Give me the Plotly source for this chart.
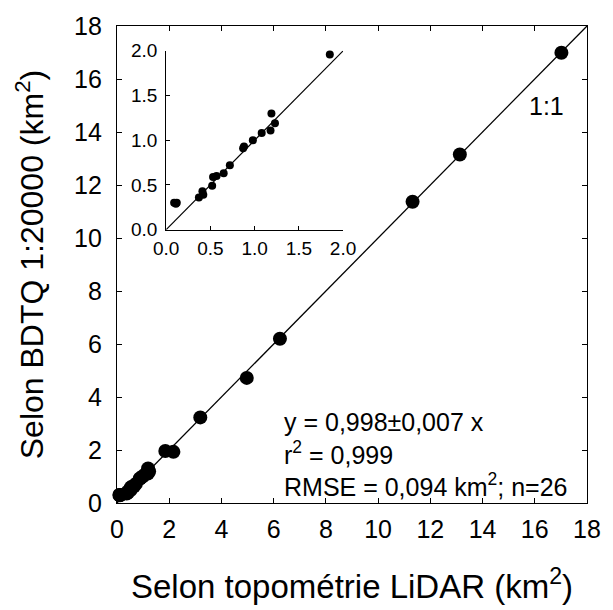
import plotly.graph_objects as go

lidar = [0.09, 0.12, 0.11, 0.37, 0.41, 0.42, 0.52, 0.53, 0.57, 0.65, 0.72, 0.87, 0.88,
         0.98, 1.08, 1.18, 1.19, 1.23, 1.85, 2.16, 3.19, 4.97, 6.24, 11.32, 13.13, 17.02]
bdtq = [0.30, 0.30, 0.29, 0.36, 0.43, 0.39, 0.49, 0.59, 0.60, 0.63, 0.72, 0.91, 0.93,
        1.00, 1.08, 1.11, 1.30, 1.19, 1.96, 1.93, 3.23, 4.72, 6.20, 11.37, 13.15, 16.99]
main_ticks = [0, 2, 4, 6, 8, 10, 12, 14, 16, 18]
inset_ticks = [0.0, 0.5, 1.0, 1.5, 2.0]
inset_labels = ["0.0", "0.5", "1.0", "1.5", "2.0"]

inset_x = [a for a in lidar if a <= 2.0]
inset_y = [b for a, b in zip(lidar, bdtq) if a <= 2.0]

FONT = "Liberation Sans, Arial, sans-serif"
fig = go.Figure()

# main 1:1 line
fig.add_trace(go.Scatter(x=[0, 18], y=[0, 18], mode="lines",
                         line=dict(color="black", width=1.3), showlegend=False,
                         hoverinfo="skip"))
fig.add_trace(go.Scatter(x=lidar, y=bdtq, mode="markers",
                         marker=dict(color="black", size=14), showlegend=False,
                         cliponaxis=False))
# inset
fig.add_trace(go.Scatter(x=[0, 2], y=[0, 2], mode="lines", xaxis="x2", yaxis="y2",
                         line=dict(color="black", width=1.1), showlegend=False,
                         hoverinfo="skip"))
fig.add_trace(go.Scatter(x=inset_x, y=inset_y, mode="markers", xaxis="x2", yaxis="y2",
                         marker=dict(color="black", size=8), showlegend=False,
                         cliponaxis=False))

axis_common = dict(showgrid=False, zeroline=False, showline=True, linecolor="black",
                   linewidth=1.3, ticks="inside", ticklen=5, tickcolor="black",
                   mirror="ticks", tickfont=dict(size=25, color="black", family=FONT))

inset_common = dict(showgrid=False, zeroline=False, showline=True, linecolor="black",
                    linewidth=1, ticks="inside", ticklen=4, tickcolor="black",
                    tickfont=dict(size=19, color="black", family=FONT))

fig.update_layout(
    width=613, height=610,
    margin=dict(l=117, r=18, t=25, b=107),
    plot_bgcolor="white", paper_bgcolor="white",
    font=dict(family=FONT, color="black"),
    xaxis=dict(range=[0, 18], tickvals=main_ticks, ticklabelstandoff=4,
               title=dict(text="Selon topométrie LiDAR (km<sup>2</sup>)",
                          font=dict(size=33), standoff=32),
               **axis_common),
    yaxis=dict(range=[0, 18], tickvals=main_ticks, ticklabelstandoff=9,
               title=dict(text="Selon BDTQ 1:20000 (km<sup>2</sup>)",
                          font=dict(size=32), standoff=20),
               **axis_common),
    xaxis2=dict(domain=[0.1046, 0.481], anchor="y2", range=[0, 2],
                tickvals=inset_ticks, ticktext=inset_labels, ticklabelstandoff=2,
                **inset_common),
    yaxis2=dict(domain=[0.573, 0.948], anchor="x2", range=[0, 2],
                tickvals=inset_ticks, ticktext=inset_labels, ticklabelstandoff=4,
                **inset_common),
    annotations=[
        dict(x=16.45, y=15.0, xref="x", yref="y", text="1:1", showarrow=False,
             xanchor="center", yanchor="middle", font=dict(size=25)),
        dict(x=6.33, y=3.05, xref="x", yref="y", text="y = 0,998±0,007 x",
             showarrow=False, xanchor="left", yanchor="middle", font=dict(size=25)),
        dict(x=6.33, y=1.88, xref="x", yref="y", text="r<sup>2</sup> = 0,999",
             showarrow=False, xanchor="left", yanchor="middle", font=dict(size=25)),
        dict(x=6.33, y=0.68, xref="x", yref="y",
             text="RMSE = 0,094 km<sup>2</sup>; n=26",
             showarrow=False, xanchor="left", yanchor="middle", font=dict(size=25)),
    ],
)

fig.write_html("out.html")
